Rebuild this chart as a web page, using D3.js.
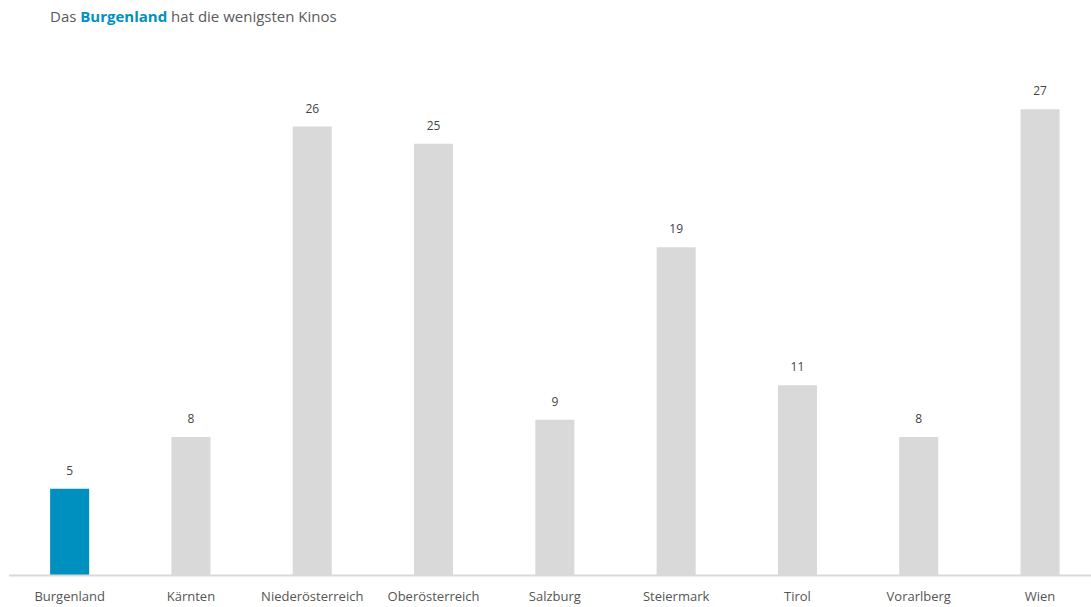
<!DOCTYPE html>
<html>
<head>
<meta charset="utf-8">
<script src="https://cdn.jsdelivr.net/npm/d3@7"></script>
<style>
  html, body { margin: 0; padding: 0; background: #fff; }
  svg { display: block; font-family: "Open Sans", "Noto Sans", sans-serif; }
</style>
</head>
<body>
<svg id="chart" width="1091" height="607"></svg>
<script>
// Kinos je Bundesland
const categories = ["Burgenland", "Kärnten", "Niederösterreich", "Oberösterreich", "Salzburg", "Steiermark", "Tirol", "Vorarlberg", "Wien"];
const cinemas = [5, 8, 26, 25, 9, 19, 11, 8, 27];
const highlight = "Burgenland";

const svg = d3.select("#chart");
const W = 1091, H = 607;
const baseY = 575;

const x = d3.scaleBand()
  .domain(categories)
  .range([9, 1100.7])
  .paddingInner(0.678)
  .paddingOuter(0.339);

const y = d3.scaleLinear()
  .domain([0, 27])
  .range([baseY, 109.25]);

// title
const title = svg.append("text")
  .attr("x", 50).attr("y", 22)
  .attr("font-size", 15)
  .attr("fill", "#5a5a5a");
title.append("tspan").text("Das ");
title.append("tspan").attr("fill", "#0090c0").attr("font-weight", "bold").text("Burgenland");
title.append("tspan").text(" hat die wenigsten Kinos");

// bars
svg.append("g").selectAll("rect")
  .data(categories)
  .join("rect")
  .attr("x", d => x(d))
  .attr("width", x.bandwidth())
  .attr("y", (d, i) => y(cinemas[i]))
  .attr("height", (d, i) => baseY - y(cinemas[i]))
  .attr("fill", d => d === highlight ? "#0090c0" : "#d9d9d9");

// value labels
svg.append("g").selectAll("text")
  .data(categories)
  .join("text")
  .attr("x", d => x(d) + x.bandwidth() / 2)
  .attr("y", (d, i) => y(cinemas[i]) - 14)
  .attr("text-anchor", "middle")
  .attr("font-size", 12)
  .attr("fill", "#444")
  .text((d, i) => cinemas[i]);

// x axis
const axis = svg.append("g")
  .attr("transform", `translate(0,${baseY})`)
  .call(d3.axisBottom(x).tickSize(0).tickPadding(17));
axis.select(".domain").remove();
axis.append("line")
  .attr("x1", 9).attr("x2", W)
  .attr("y1", 0.5).attr("y2", 0.5)
  .attr("stroke", "#d9d9d9").attr("stroke-width", 2);
axis.selectAll(".tick text")
  .attr("font-family", "\"Open Sans\", \"Noto Sans\", sans-serif")
  .attr("font-size", 13)
  .attr("fill", "#555");
</script>
</body>
</html>
